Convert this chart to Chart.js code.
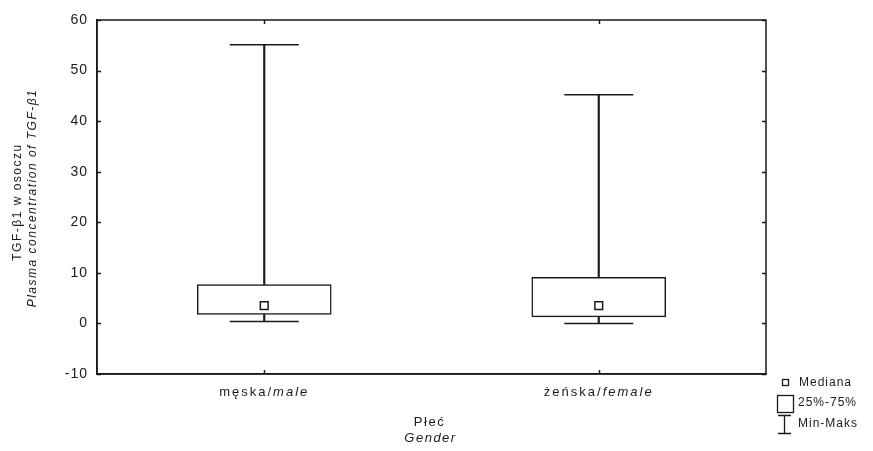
<!DOCTYPE html>
<html>
<head>
<meta charset="utf-8">
<script src="https://cdn.jsdelivr.net/npm/chart.js@4.4.1/dist/chart.umd.min.js"></script>
<style>
  html, body { margin: 0; padding: 0; background: #fff; }
  #wrap { width: 873px; height: 451px; position: relative; }
</style>
</head>
<body>
<div id="wrap"><canvas id="boxChart"></canvas></div>
<script>
// Data
const categoriesPl = ['męska', 'żeńska'];
const categoriesEn = ['male', 'female'];
const minVals = [0.4, 0.0];
const q1Vals = [1.8, 1.3];
const medianVals = [3.5, 3.5];
const q3Vals = [7.7, 9.1];
const maxVals = [55.1, 45.2];
const yTicks = [-10, 0, 10, 20, 30, 40, 50, 60];

const INK = '#1a1a1a';
const FONT = '"Liberation Sans", Arial, sans-serif';

// frame, inward ticks, mixed-style labels, titles and legend
const decorPlugin = {
  id: 'decor',
  beforeDraw(chart) {
    chart.ctx.letterSpacing = '1px';
  },
  afterDraw(chart) {
    const { ctx, chartArea: a, scales } = chart;
    const x = scales.x, y = scales.y;
    ctx.save();
    ctx.strokeStyle = INK;
    ctx.lineWidth = 1.5;
    ctx.strokeRect(a.left, a.top, a.right - a.left, a.bottom - a.top);

    ctx.beginPath();
    yTicks.forEach(v => {
      const py = Math.round(y.getPixelForValue(v)) + 0.5;
      ctx.moveTo(a.left, py); ctx.lineTo(a.left + 4, py);
      ctx.moveTo(a.right, py); ctx.lineTo(a.right - 4, py);
    });
    categoriesPl.forEach((c, i) => {
      const px = Math.round(x.getPixelForValue(i)) + 0.5;
      ctx.moveTo(px, a.bottom); ctx.lineTo(px, a.bottom - 4);
      ctx.moveTo(px, a.top); ctx.lineTo(px, a.top + 4);
    });
    ctx.stroke();

    ctx.fillStyle = INK;
    ctx.textBaseline = 'middle';

    // x category labels: polish normal + english italic
    ctx.letterSpacing = '2px';
    categoriesPl.forEach((c, i) => {
      const px = x.getPixelForValue(i);
      ctx.font = '13px ' + FONT;
      const p1 = c + '/';
      const w1 = ctx.measureText(p1).width;
      ctx.font = 'italic 13px ' + FONT;
      const w2 = ctx.measureText(categoriesEn[i]).width;
      const sx = px - (w1 + w2) / 2;
      ctx.textAlign = 'left';
      ctx.font = '13px ' + FONT;
      ctx.fillText(p1, sx, a.bottom + 18);
      ctx.font = 'italic 13px ' + FONT;
      ctx.fillText(categoriesEn[i], sx + w1, a.bottom + 18);
    });

    // x axis title
    ctx.letterSpacing = '1.5px';
    const cx = (a.left + a.right) / 2;
    ctx.textAlign = 'center';
    ctx.font = '13px ' + FONT;
    ctx.fillText('Płeć', cx - 2, a.bottom + 48);
    ctx.font = 'italic 13px ' + FONT;
    ctx.fillText('Gender', cx - 1, a.bottom + 64);

    // y axis title
    ctx.save();
    ctx.translate(0, (a.top + a.bottom) / 2);
    ctx.rotate(-Math.PI / 2);
    ctx.letterSpacing = '1.5px';
    ctx.font = '12px ' + FONT;
    ctx.fillText('TGF-β1 w osoczu', -5, 18);
    ctx.font = 'italic 12px ' + FONT;
    ctx.fillText('Plasma concentration of TGF-β1', -1, 33);
    ctx.restore();

    // legend
    const lx = a.right + 11;
    ctx.letterSpacing = '1px';
    ctx.textAlign = 'left';
    ctx.font = '12px ' + FONT;
    ctx.lineWidth = 1.3;
    ctx.strokeRect(lx + 5.5, a.bottom + 5.5, 6, 6);
    ctx.fillText('Mediana', lx + 22, a.bottom + 9);
    ctx.strokeRect(lx + 0.5, a.bottom + 21.5, 16, 17);
    ctx.fillText('25%-75%', lx + 21, a.bottom + 29);
    ctx.beginPath();
    ctx.moveTo(lx + 1, a.bottom + 41.5); ctx.lineTo(lx + 14, a.bottom + 41.5);
    ctx.moveTo(lx + 7.5, a.bottom + 41.5); ctx.lineTo(lx + 7.5, a.bottom + 59.5);
    ctx.moveTo(lx + 1, a.bottom + 59.5); ctx.lineTo(lx + 14, a.bottom + 59.5);
    ctx.stroke();
    ctx.fillText('Min-Maks', lx + 21, a.bottom + 50);
    ctx.restore();
  }
};

const labels = categoriesPl.map((c, i) => c + '/' + categoriesEn[i]);

new Chart(document.getElementById('boxChart'), {
  data: {
    labels: labels,
    datasets: [
      {
        type: 'line',
        label: 'Mediana',
        data: medianVals,
        showLine: false,
        pointStyle: 'rect',
        pointRadius: 5.5,
        pointBackgroundColor: '#fff',
        pointBorderColor: INK,
        pointBorderWidth: 1.5,
        order: 0
      },
      {
        type: 'line',
        label: 'Maks',
        data: maxVals,
        showLine: false,
        pointStyle: 'line',
        pointRadius: 34.5,
        pointBorderColor: INK,
        pointBorderWidth: 1.5,
        order: 1
      },
      {
        type: 'line',
        label: 'Min',
        data: minVals,
        showLine: false,
        pointStyle: 'line',
        pointRadius: 34.5,
        pointBorderColor: INK,
        pointBorderWidth: 1.5,
        order: 1
      },
      {
        type: 'bar',
        label: '25%-75%',
        data: q1Vals.map((v, i) => [v, q3Vals[i]]),
        backgroundColor: '#fff',
        borderColor: INK,
        borderWidth: 1.5,
        borderSkipped: false,
        barThickness: 134,
        grouped: false,
        order: 2
      },
      {
        type: 'bar',
        label: 'Min-Maks',
        data: minVals.map((v, i) => [v, maxVals[i]]),
        backgroundColor: INK,
        borderWidth: 0,
        barThickness: 1.5,
        grouped: false,
        order: 3
      }
    ]
  },
  options: {
    responsive: true,
    maintainAspectRatio: false,
    animation: false,
    events: [],
    layout: { autoPadding: false, padding: { left: 0, right: 107, top: 20, bottom: 77 } },
    plugins: { legend: { display: false }, tooltip: { enabled: false } },
    scales: {
      x: {
        type: 'category',
        offset: true,
        grid: { display: false, drawTicks: false },
        border: { display: true, color: INK, width: 1.5 },
        ticks: { display: false },
        afterFit(scale) { scale.height = 0; }
      },
      y: {
        min: -10,
        max: 60,
        afterBuildTicks(scale) { scale.ticks = yTicks.map(v => ({ value: v })); },
        grid: { display: false, drawTicks: false },
        border: { display: true, color: INK, width: 1.5 },
        ticks: { color: INK, padding: 9, font: { family: FONT, size: 14 } },
        afterFit(scale) { scale.width = 97; }
      }
    }
  },
  plugins: [decorPlugin]
});
</script>
</body>
</html>
